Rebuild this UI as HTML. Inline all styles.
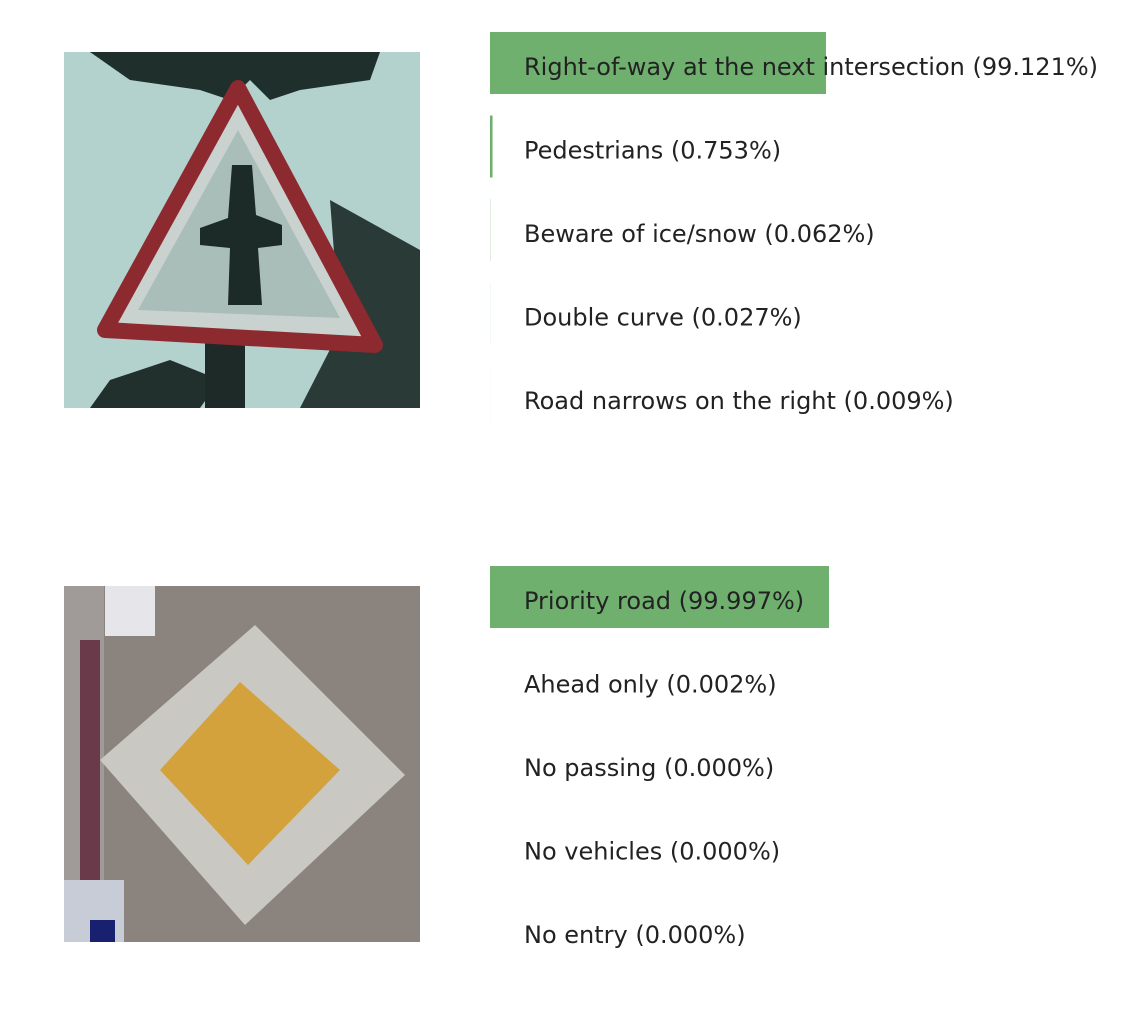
<!DOCTYPE html>
<html><head><meta charset="utf-8"><style>
body{margin:0;background:#fff;width:1122px;height:1010px;overflow:hidden;font-family:"DejaVu Sans","Liberation Sans",sans-serif;}
svg{display:block}
</style></head><body>
<svg id="chart" width="1122" height="1010">
<g>
<rect x="64" y="52" width="356" height="356" fill="#b3d1cd"/>
<path d="M90 52 L380 52 L370 80 L300 90 L270 100 L250 80 L230 100 L200 90 L130 80 Z" fill="#1f2f2c"/>
<path d="M330 200 L420 250 L420 408 L300 408 L340 330 Z" fill="#2a3a36"/>
<path d="M90 408 L110 380 L170 360 L220 380 L200 408 Z" fill="#22302d"/>
<rect x="205" y="330" width="40" height="78" fill="#1e2a28"/>
<polygon points="238,88 375,345 105,330" fill="#c9d2cf" stroke="#8c2a30" stroke-width="16" stroke-linejoin="round"/>
<polygon points="238,130 340,318 138,310" fill="#a9bdb9"/>
<path d="M232 165 L252 165 L256 215 L282 225 L282 245 L258 248 L262 305 L228 305 L230 248 L200 245 L200 228 L228 218 Z" fill="#1c2a28"/>
</g>
<g>
<rect x="64" y="586" width="356" height="356" fill="#8b837d"/>
<rect x="64" y="586" width="40" height="356" fill="#a09a98"/>
<rect x="80" y="640" width="20" height="300" fill="#6a3a4a"/>
<rect x="105" y="586" width="50" height="50" fill="#e6e6ea"/>
<rect x="64" y="880" width="60" height="62" fill="#c8ccd6"/>
<rect x="90" y="920" width="25" height="22" fill="#1a2070"/>
<polygon points="255,625 405,775 245,925 100,760" fill="#c9c8c2"/>
<polygon points="240,682 340,770 248,865 160,770" fill="#d3a23c"/>
</g>
<g id="bars1"></g>
<g id="bars2"></g>
</svg>
<script>
const labels1=["Right-of-way at the next intersection","Pedestrians","Beware of ice/snow","Double curve","Road narrows on the right"];
const probs1=[99.121,0.753,0.062,0.027,0.009];
const labels2=["Priority road","Ahead only","No passing","No vehicles","No entry"];
const probs2=[99.997,0.002,0.000,0.000,0.000];
const NS="http://www.w3.org/2000/svg";
function draw(gid,labels,probs,top){
  const g=document.getElementById(gid);
  const x0=490,w=339,step=83.5,bh=62;
  const xs=v=>v/100*w;
  labels.forEach((l,i)=>{
    const cy=top+i*step;
    const r=document.createElementNS(NS,'rect');
    
    
    r.setAttribute('x',x0);r.setAttribute('y',cy-bh/2);
    r.setAttribute('width',Math.max(xs(probs[i]),0));r.setAttribute('height',bh);
    r.setAttribute('fill','#6fb06f');
    g.appendChild(r);
    const t=document.createElementNS(NS,'text');
    
    
    t.setAttribute('x',524);t.setAttribute('y',cy+12);
    t.setAttribute('font-size','24');t.setAttribute('fill','#222');
    t.textContent=l+' ('+probs[i].toFixed(3)+'%)';
    g.appendChild(t);
  });
}
draw('bars1',labels1,probs1,63);
draw('bars2',labels2,probs2,597);
</script>
</body></html>
